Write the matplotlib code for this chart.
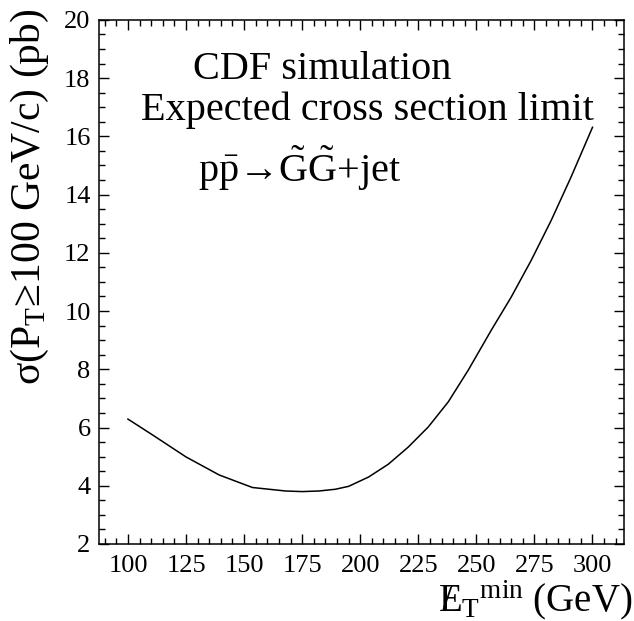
import matplotlib
matplotlib.use('Agg')
import matplotlib.pyplot as plt
import numpy as np

# Expected cross section limit vs. missing ET threshold
met_min = [100, 110.7, 125, 139.3, 153.6, 167.9, 175, 182.2, 189.3, 195, 203.6,
           212.1, 220.7, 229.3, 237.9, 246.5, 256.4, 265, 273.6, 282.2, 290.7, 300]
xsec_limit = [6.29, 5.74, 4.99, 4.37, 3.94, 3.82, 3.80, 3.82, 3.88, 3.98, 4.30,
              4.74, 5.33, 6.02, 6.88, 7.97, 9.34, 10.48, 11.74, 13.11, 14.59, 16.31]

x_ticks = [100, 125, 150, 175, 200, 225, 250, 275, 300]
y_ticks = [2, 4, 6, 8, 10, 12, 14, 16, 18, 20]

plt.rcParams['font.family'] = ['Liberation Serif', 'DejaVu Serif']
plt.rcParams['mathtext.fontset'] = 'custom'
plt.rcParams['mathtext.rm'] = 'Liberation Serif'
plt.rcParams['mathtext.it'] = 'Liberation Serif:italic'
plt.rcParams['mathtext.bf'] = 'Liberation Serif:bold'

fig = plt.figure(figsize=(6.34, 6.21), dpi=100)
ax = fig.add_axes([0.156, 0.124, 0.828, 0.844])

ax.plot(met_min, xsec_limit, color='black', lw=1.1)

ax.set_xlim(87.5, 313.5)
ax.set_ylim(2, 20)
ax.set_xticks(x_ticks)
ax.set_yticks(y_ticks)
ax.set_xticks(np.arange(90, 314, 5), minor=True)
ax.set_yticks(np.arange(2, 20.01, 0.5), minor=True)

# ROOT style ticks: inward, on every side
ax.tick_params(which='both', direction='in', top=True, right=True, width=1.0)
ax.tick_params(which='major', length=7.5, labelsize=19)
ax.tick_params(which='minor', length=4)
ax.tick_params(axis='x', which='major', pad=8)
ax.tick_params(axis='y', which='major', pad=6)
for s in ax.spines.values():
    s.set_linewidth(1.1)

# Titles
fig.text(0.047, 0.986, r'σ(P$_{\mathrm{T}}$≥100 GeV/c) (pb)', rotation=90,
         ha='center', va='top', fontsize=30)
fig.text(0.997, 0.033, r'$/\!\!\!\mathrm{E}_{\mathrm{T}}{}^{\mathrm{min}}$ (GeV)',
         ha='right', va='center', fontsize=28)

# Labels inside the frame
ax.text(0.425, 0.887, 'CDF simulation', transform=ax.transAxes,
        ha='center', va='baseline', fontsize=29)
ax.text(0.511, 0.809, 'Expected cross section limit', transform=ax.transAxes,
        ha='center', va='baseline', fontsize=29)
ax.text(0.383, 0.691, r'p$\bar{\mathrm{p}}$→$\tilde{\mathrm{G}}\tilde{\mathrm{G}}$+jet',
        transform=ax.transAxes, ha='center', va='baseline', fontsize=29)

fig.savefig('out.png', dpi=100)
